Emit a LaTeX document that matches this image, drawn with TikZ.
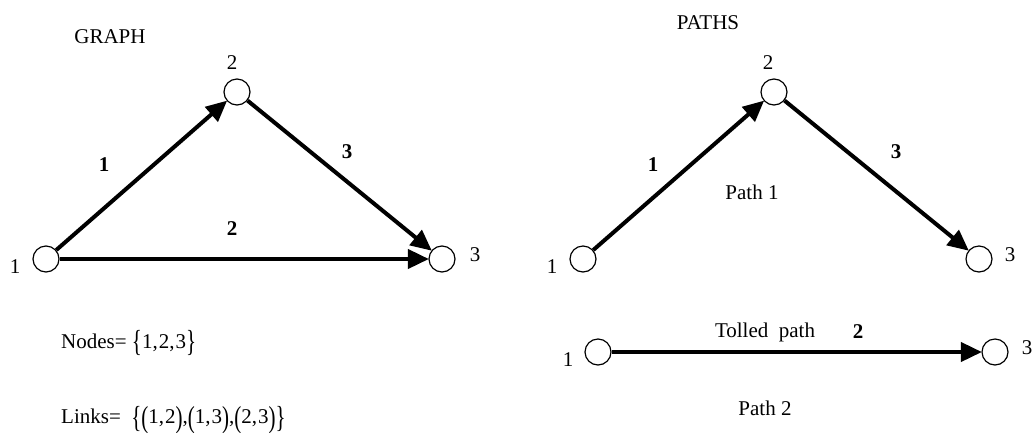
\documentclass[tikz,border=0pt]{standalone}
\usepackage{fontspec}
\setmainfont{Liberation Serif}
\usetikzlibrary{arrows.meta}
\newcommand\tallch[1]{\raisebox{-0.35ex}{\scalebox{1}[1.45]{#1}}}
\tikzset{
  vertex/.style={circle,draw,line width=1.2pt,minimum size=26pt,inner sep=0pt,fill=white},
  link/.style={line width=4pt,-{Triangle[length=21pt,width=19pt]},shorten >=-0.5pt},
  txt/.style={font=\fontsize{21}{25}\selectfont,inner sep=0pt},
  blab/.style={font=\fontsize{21}{25}\selectfont\bfseries,inner sep=0pt}
}
\begin{document}
\begin{tikzpicture}[x=1pt,y=-1pt]
\useasboundingbox (0,0) rectangle (1033,432);
% left graph
\node[txt] (gt) at (110,37) {GRAPH};
\node[vertex] (g1) at (46,259) {};
\node[vertex] (g2) at (237,92) {};
\node[vertex] (g3) at (442,259) {};
\node[txt] (g1l) at (15,267) {1};
\node[txt] (g2l) at (232,63) {2};
\node[txt] (g3l) at (475,255) {3};
\draw[link] (g1) -- (g2);
\draw[link] (g2) -- (g3);
\draw[link] (g1) -- (g3);
\node[blab] (ge1) at (104,165) {1};
\node[blab] (ge3) at (347,152) {3};
\node[blab] (ge2) at (232,229) {2};
\node[txt,anchor=west] (nodes) at (61,343) {Nodes=\ \tallch{\{}1,\kern1pt2,\kern1pt3\tallch{\}}};
\node[txt,anchor=west] (links) at (61,420) {Links=\ \ \tallch{\{}\tallch{(}1,\kern1pt2\tallch{)},\tallch{(}1,\kern1pt3\tallch{)},\tallch{(}2,\kern1pt3\tallch{)}\tallch{\}}};
% right paths
\node[txt] (pt) at (708,23) {PATHS};
\node[vertex] (p1) at (583,259) {};
\node[vertex] (p2) at (774,92) {};
\node[vertex] (p3) at (979,259) {};
\node[txt] (p1l) at (552,267) {1};
\node[txt] (p2l) at (768,63) {2};
\node[txt] (p3l) at (1010,255) {3};
\draw[link] (p1) -- (p2);
\draw[link] (p2) -- (p3);
\node[blab] (pe1) at (653,165) {1};
\node[blab] (pe3) at (896,152) {3};
\node[txt] (path1) at (752,192) {Path 1};
\node[vertex] (q1) at (598,352) {};
\node[vertex] (q3) at (995,352) {};
\node[txt] (q1l) at (568,360) {1};
\node[txt] (q3l) at (1027,348) {3};
\draw[link] (q1) -- (q3);
\node[txt] (toll) at (765,332) {Tolled\ \ path};
\node[blab] (qe2) at (858,332) {2};
\node[txt] (path2) at (765,408) {Path 2};
\end{tikzpicture}
\end{document}
